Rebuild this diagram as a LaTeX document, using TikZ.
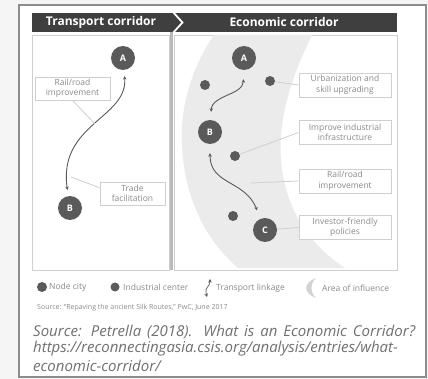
\documentclass[tikz,border=0pt]{standalone}
\usepackage{fontspec}
\setmainfont{Open Sans}
\usetikzlibrary{arrows.meta}

\definecolor{framegray}{HTML}{8C8C8C}
\definecolor{headgray}{HTML}{3F3F3F}
\definecolor{citygray}{HTML}{5A5A5A}
\definecolor{bandgray}{HTML}{EBEBEB}
\definecolor{boxline}{HTML}{CFCFCF}
\definecolor{labeltext}{HTML}{8A8A8A}
\definecolor{captext}{HTML}{707070}

\begin{document}
\begin{tikzpicture}[x=1pt,y=-1pt,>={Stealth[length=3.5pt,width=3.5pt]},
    city/.style={circle,fill=citygray,minimum size=24pt,inner sep=0pt,
        text=white,font=\bfseries\fontsize{9}{9}\selectfont},
    ind/.style={circle,fill=citygray,minimum size=10pt,inner sep=0pt},
    infobox/.style={draw=boxline,line width=0.8pt,fill=white,align=center,
        text=labeltext,font=\fontsize{8.5}{10.5}\selectfont,inner sep=1pt},
    head/.style={text=white,font=\bfseries\fontsize{12}{13}\selectfont,inner sep=0pt},
    link/.style={<->,line width=0.9pt,draw=citygray},
    leader/.style={draw=boxline,line width=0.8pt},
    legendtext/.style={anchor=west,text=labeltext,font=\fontsize{8.5}{9}\selectfont,inner sep=0pt},
    caption/.style={anchor=west,text=captext,inner sep=0pt,
        font=\itshape\fontsize{15}{17}\selectfont}]
    \useasboundingbox (0,0) rectangle (428,379);
    % --- page and outer frame ---
    \fill[gray!8] (0,0) rectangle (428,379);
    \filldraw[fill=white,draw=framegray,line width=2.5pt] (19,5) rectangle (426,377);
    % --- header bar with chevron ---
    \fill[headgray] (32,13) rectangle (397,32);
    \draw[white,line width=1.8pt] (172,11) -- (182.5,22.5) -- (172,34);
    \node[head] (htrans) at (101,22.5) {Transport corridor};
    \node[head] (hecon) at (284,22.5) {Economic corridor};
    % --- panels ---
    \draw[boxline,line width=0.8pt] (32,35) rectangle (169,270);
    \draw[boxline,line width=0.8pt] (174,35) rectangle (397,270);
    \draw[gray!55,line width=2.5pt] (171.5,32) -- (171.5,270);
    % --- area of influence (crescent band) ---
    \begin{scope}
        \clip (174,35) rectangle (397,270);
        \fill[bandgray] (214,35) .. controls (190,70) and (180,110) .. (182,145)
            .. controls (184,190) and (200,235) .. (238,268) -- (345,268)
            .. controls (310,245) and (285,210) .. (281,160)
            .. controls (278,120) and (290,80) .. (312,35) -- cycle;
    \end{scope}
    % --- transport corridor: A to B ---
    \node[city] (lA) at (123,58) {A};
    \node[city] (lB) at (70,208) {B};
    \draw[link,shorten <=6pt,shorten >=6pt] (lA) .. controls (128,118) and (58,124) .. (lB);
    \coordinate (lmid) at (95,124);
    \coordinate (llow) at (71,177);
    \node[infobox,minimum width=75pt,minimum height=23pt] (lrail) at (72.5,88.5) {Rail/road\\improvement};
    \node[infobox,minimum width=65pt,minimum height=23pt] (ltrade) at (132.5,193.5) {Trade\\facilitation};
    \draw[leader] (lrail.south) -- (lmid);
    \draw[leader] (llow) -- (ltrade.170);
    % --- economic corridor: A, B, C and industrial centres ---
    \node[city] (rA) at (244,58) {A};
    \node[city] (rB) at (210,132) {B};
    \node[city] (rC) at (265,230) {C};
    \node[ind] (ri1) at (205,85) {};
    \node[ind] (ri2) at (270,81) {};
    \node[ind] (ri3) at (235,156) {};
    \node[ind] (ri4) at (233,216) {};
    \draw[link,shorten <=9pt,shorten >=8pt] (rA) .. controls (243,95) and (212,95) .. (rB);
    \draw[link,shorten <=9pt,shorten >=9pt] (rB) .. controls (210,185) and (245,180) .. (rC);
    \coordinate (rrailpt) at (251,183);
    \node[infobox,minimum width=92pt,minimum height=24pt] (rurb) at (345,85) {Urbanization and\\skill upgrading};
    \node[infobox,minimum width=92pt,minimum height=24pt] (rimp) at (345,132.5) {Improve industrial\\infrastructure};
    \node[infobox,minimum width=92pt,minimum height=24pt] (rrail) at (345,181) {Rail/road\\improvement};
    \node[infobox,minimum width=92pt,minimum height=24pt] (rinv) at (345,227.5) {Investor-friendly\\policies};
    \draw[leader] (ri2) -- (rurb.west);
    \draw[leader] (ri3) -- (rimp.west);
    \draw[leader] (rrailpt) -- (rrail.west);
    \draw[leader] (rC) -- (rinv.west);
    % --- legend ---
    \node[ind] (gcity) at (42,287) {};
    \node[legendtext] (tcity) at (49,287) {Node city};
    \node[ind,minimum size=9pt] (gind) at (115,287) {};
    \node[legendtext] (tind) at (123,287) {Industrial center};
    \coordinate (glinktop) at (210,279);
    \coordinate (glinkbot) at (207,297);
    \draw[link,line width=0.7pt] (glinktop) .. controls (210,288) and (204,286) .. (glinkbot);
    \node[legendtext] (tlink) at (216,288) {Transport linkage};
    \fill[bandgray!90!black] (316,278) .. controls (303,283) and (303,293) .. (316,298)
        .. controls (310,292) and (310,284) .. (316,278) -- cycle;
    \node[legendtext] (tarea) at (322,288) {Area of influence};
    \node[legendtext,font=\fontsize{7}{8}\selectfont] (tsrc) at (37,308)
        {Source: ``Repaving the ancient Silk Routes,'' PwC, June 2017};
    % --- caption ---
    \node[caption] (cap1) at (33,332) {\makebox[382pt][s]{Source: Petrella (2018). What is an Economic Corridor?}};
    \node[caption] (cap2) at (33,349) {https://reconnectingasia.csis.org/analysis/entries/what-};
    \node[caption] (cap3) at (33,366) {economic-corridor/};
\end{tikzpicture}
\end{document}
